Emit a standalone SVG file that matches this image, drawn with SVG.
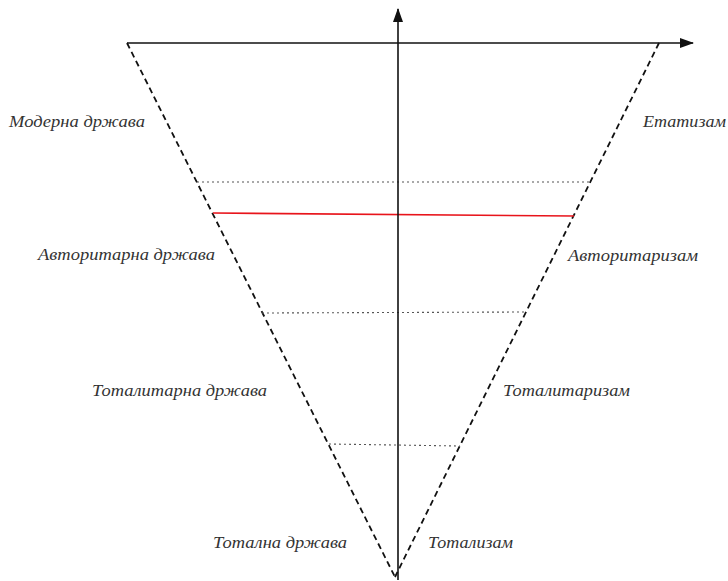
<svg xmlns="http://www.w3.org/2000/svg" width="728" height="581" viewBox="0 0 728 581">
<style>
.lbl{font-family:"Liberation Serif","Times New Roman",serif;font-style:italic;font-size:17px;fill:#333}
.axis{stroke:#111;stroke-width:1.6;fill:none}
.side{stroke:#111;stroke-width:1.8;stroke-dasharray:6 4;fill:none}
.lvl{stroke:#555;stroke-width:1.1;stroke-dasharray:2 3;fill:none}
</style>
<defs>
<marker id="ah" viewBox="0 0 14 10" refX="13" refY="5" markerWidth="14" markerHeight="10" markerUnits="userSpaceOnUse" orient="auto">
<path d="M0,0 L14,5 L0,10 z" fill="#111"/>
</marker>
</defs>
<g id="connectors">
<line class="side" x1="127" y1="43" x2="395" y2="577"/>
<line class="side" x1="659" y1="43" x2="395" y2="577"/>
<line class="lvl" x1="197" y1="182" x2="589" y2="182"/>
<line class="lvl" x1="262" y1="313" x2="527" y2="312"/>
<line class="lvl" x1="329" y1="444" x2="460" y2="446"/>
<line x1="213" y1="213" x2="574" y2="216" stroke="#e8141b" stroke-width="1.6"/>
<line class="axis" x1="127" y1="43" x2="693" y2="43" marker-end="url(#ah)"/>
<line class="axis" x1="398" y1="580" x2="398" y2="9" marker-end="url(#ah)"/>
</g>
<g id="n1"><text class="lbl" x="9" y="127" textLength="136" lengthAdjust="spacingAndGlyphs">Модерна држава</text></g>
<g id="n2"><text class="lbl" x="643" y="127" textLength="83" lengthAdjust="spacingAndGlyphs">Етатизам</text></g>
<g id="n3"><text class="lbl" x="38" y="260" textLength="177" lengthAdjust="spacingAndGlyphs">Авторитарна држава</text></g>
<g id="n4"><text class="lbl" x="568" y="261" textLength="130" lengthAdjust="spacingAndGlyphs">Авторитаризам</text></g>
<g id="n5"><text class="lbl" x="92" y="396" textLength="175" lengthAdjust="spacingAndGlyphs">Тоталитарна држава</text></g>
<g id="n6"><text class="lbl" x="503" y="396" textLength="127" lengthAdjust="spacingAndGlyphs">Тоталитаризам</text></g>
<g id="n7"><text class="lbl" x="213" y="548" textLength="134" lengthAdjust="spacingAndGlyphs">Тотална држава</text></g>
<g id="n8"><text class="lbl" x="428" y="548" textLength="85" lengthAdjust="spacingAndGlyphs">Тотализам</text></g>
</svg>
